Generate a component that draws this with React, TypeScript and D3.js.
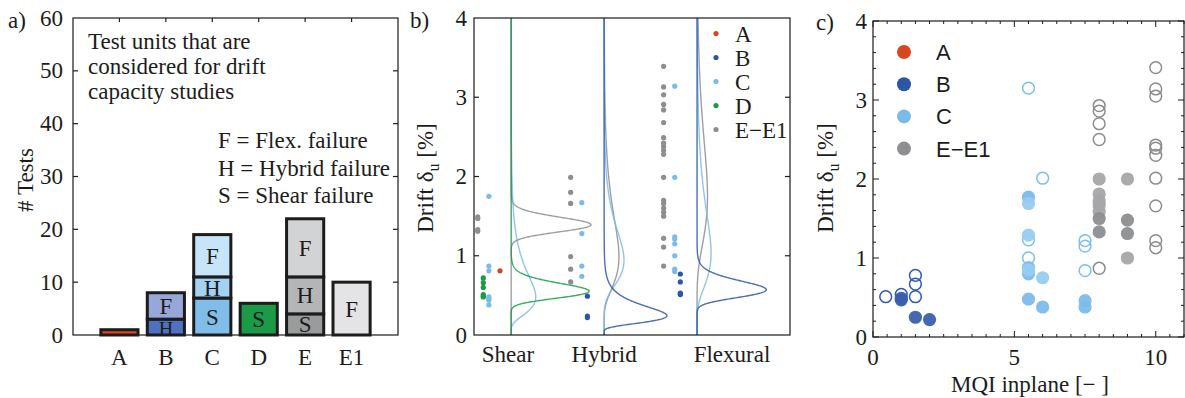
import React from 'react';
import * as d3 from 'd3';

// ---------- Panel a data ----------
const categories = ['A', 'B', 'C', 'D', 'E', 'E1'];
const shearCounts = [1, 0, 7, 6, 4, 0];
const hybridCounts = [0, 3, 4, 0, 7, 0];
const flexCounts = [0, 5, 8, 0, 11, 10];
const countTicks = [0, 10, 20, 30, 40, 50, 60];
const infoLines = ['Test units that are', 'considered for drift', 'capacity studies'];
const keyLines = ['F = Flex. failure', 'H = Hybrid failure', 'S = Shear failure'];

// ---------- Panel b data (drift capacity, %) ----------
const groupNames = ['Shear', 'Hybrid', 'Flexural'];
const shearA = [0.81];
const shearC = [1.75, 0.87, 0.81, 0.48, 0.46, 0.44, 0.38];
const shearD = [0.72, 0.66, 0.6, 0.51, 0.49, 0.48];
const shearE = [1.49, 1.47, 1.33, 1.31];
const hybridB = [0.49, 0.24, 0.22];
const hybridC = [1.67, 1.28, 0.87, 0.74];
const hybridE = [1.99, 1.8, 1.66, 0.99, 0.83, 0.67];
const flexB = [0.77, 0.67, 0.53, 0.52, 0.51];
const flexC = [3.14, 1.99, 1.24, 1.21, 1.15, 1.0, 0.83, 0.8];
const flexE = [3.39, 3.13, 3.03, 2.91, 2.84, 2.68, 2.49, 2.42, 2.38, 2.33, 2.28, 1.99, 1.7, 1.66, 1.6, 1.55, 1.5, 1.22, 1.11, 0.87];
const driftTicks = [0, 1, 2, 3, 4];
const legendBLabels = ['A', 'B', 'C', 'D', 'E\u2212E1'];

// ---------- Panel c data: [MQI inplane, drift %] ----------
const cBFilled = [[1.0, 0.49], [1.0, 0.47], [1.5, 0.25], [2.0, 0.22]];
const cBOpen = [[0.45, 0.51], [1.0, 0.54], [1.5, 0.78], [1.5, 0.67], [1.5, 0.51]];
const cCShear = [[5.5, 1.77], [5.5, 0.88], [5.5, 0.8], [5.5, 0.48], [6.0, 0.38], [7.5, 0.46], [7.5, 0.38]];
const cCHybrid = [[5.5, 1.69], [5.5, 1.29], [5.5, 0.85], [6.0, 0.75]];
const cCOpen = [[5.5, 3.15], [6.0, 2.01], [5.5, 1.23], [5.5, 1.0], [7.5, 1.22], [7.5, 1.15], [7.5, 0.84]];
const cEShear = [[8, 1.5], [8, 1.33], [9, 1.48], [9, 1.31]];
const cEHybrid = [[8, 2.0], [8, 1.81], [8, 1.72], [8, 1.67], [8, 1.59], [9, 2.0], [9, 1.0]];
const cEOpen = [[8, 2.93], [8, 2.86], [8, 2.7], [8, 2.5], [8, 0.87], [10, 3.41], [10, 3.14], [10, 3.05], [10, 2.43], [10, 2.39], [10, 2.3], [10, 2.01], [10, 1.66], [10, 1.22], [10, 1.13]];
const mqiTicks = [0, 5, 10];
const legendCLabels = ['A', 'B', 'C', 'E\u2212E1'];

// ---------- styles ----------
const INK = '#1c1c1c';
const SERIF = '"Liberation Serif", "Times New Roman", serif';
const SANS = '"Liberation Sans", Arial, sans-serif';
const FS = 23;
const RED = '#d8461f';
const DBLUE = '#2b56a8';
const LBLUE = '#7cbbe8';
const GREEN = '#1b9a48';
const GRAY = '#8e8e90';

const segColors = {
  S: ['#d9461e', '#4f6fbf', '#80bee9', '#1b9a48', '#9a9b9d', '#e4e4e6'],
  H: ['#d9461e', '#5070c0', '#a3d3f1', '#1b9a48', '#b4b5b7', '#e4e4e6'],
  F: ['#d9461e', '#98a7d9', '#c6e5f8', '#1b9a48', '#d2d3d5', '#e4e4e6'],
};

function lognPdf(vals: number[]) {
  const l = vals.map(Math.log);
  const mu = d3.mean(l) as number;
  const s = d3.deviation(l) as number;
  return (y: number) =>
    y <= 0 ? 0 : Math.exp(-((Math.log(y) - mu) ** 2) / (2 * s * s)) / (y * s * Math.sqrt(2 * Math.PI));
}

function PanelA() {
  const xA = d3.scaleLinear().domain([0, 7]).range([73, 398]);
  const yA = d3.scaleLinear().domain([0, 60]).range([335, 18]);
  const bw = xA(0.8) - xA(0);
  return (
    <g>
      <text x={8} y={28} fontFamily={SERIF} fontSize={FS} fill={INK}>a)</text>
      <rect x={xA(0)} y={yA(60)} width={xA(7) - xA(0)} height={yA(0) - yA(60)} fill="none" stroke={INK} strokeWidth={1.2} />
      {countTicks.map((t) => (
        <g key={t}>
          <text x={63} y={yA(t)} dy="0.33em" textAnchor="end" fontFamily={SERIF} fontSize={FS} fill={INK}>{t}</text>
          {t > 0 && t < 60 && <line x1={xA(0)} x2={xA(0) + 5} y1={yA(t)} y2={yA(t)} stroke={INK} strokeWidth={1.2} />}
          {t > 0 && t < 60 && <line x1={xA(7)} x2={xA(7) - 5} y1={yA(t)} y2={yA(t)} stroke={INK} strokeWidth={1.2} />}
        </g>
      ))}
      {categories.map((c, i) => (
        <g key={c}>
          <line x1={xA(i + 1)} x2={xA(i + 1)} y1={yA(60)} y2={yA(60) + 4} stroke={INK} strokeWidth={1.2} />
          <text x={xA(i + 1)} y={365} textAnchor="middle" fontFamily={SERIF} fontSize={FS} fill={INK}>{c}</text>
        </g>
      ))}
      <text transform={`translate(33,${180}) rotate(-90)`} textAnchor="middle" fontFamily={SERIF} fontSize={FS} fill={INK}># Tests</text>
      {infoLines.map((l, i) => (
        <text key={l} x={88} y={49 + i * 25} fontFamily={SERIF} fontSize={FS} fill={INK}>{l}</text>
      ))}
      {keyLines.map((l, i) => (
        <text key={l} x={218} y={148 + i * 27.5} fontFamily={SERIF} fontSize={FS} fill={INK}>{l}</text>
      ))}
      {categories.map((c, i) => {
        const segs = [
          { k: 'S', v: shearCounts[i] },
          { k: 'H', v: hybridCounts[i] },
          { k: 'F', v: flexCounts[i] },
        ];
        let base = 0;
        return (
          <g key={c}>
            {segs.map((s) => {
              if (s.v <= 0) return null;
              const y0 = base;
              base += s.v;
              const small = s.v < 4;
              return (
                <g key={s.k}>
                  <rect x={xA(i + 1) - bw / 2} y={yA(y0 + s.v)} width={bw} height={yA(y0) - yA(y0 + s.v)}
                    fill={(segColors as any)[s.k][i]} stroke={INK} strokeWidth={3} />
                  {s.v >= 2 && (
                    <text x={xA(i + 1)} y={yA(y0 + s.v / 2) + (small ? 2 : 0)} dy="0.35em" textAnchor="middle" fontFamily={SERIF} fontSize={small ? 20 : FS} fill={INK}>{s.k}</text>
                  )}
                </g>
              );
            })}
          </g>
        );
      })}
    </g>
  );
}

function PanelB() {
  const xB = d3.scaleLinear().domain([0.6, 4.0]).range([474, 790]);
  const yB = d3.scaleLinear().domain([0, 4]).range([335, 18]);
  const densScale = 0.2; // x-units per unit density
  const offsets = { A: -0.12, B: -0.18, C: -0.24, D: -0.3, E: -0.36 };
  const colors = { A: RED, B: DBLUE, C: LBLUE, D: GREEN, E: GRAY };
  const groups = [
    { base: 1, sets: [['C', shearC], ['E', shearE], ['D', shearD], ['A', shearA]] },
    { base: 2, sets: [['E', hybridE], ['C', hybridC], ['B', hybridB]] },
    { base: 3, sets: [['E', flexE], ['C', flexC], ['B', flexB]] },
  ];
  const labelPos = [0.966, 2.0, 3.376];
  const ys = d3.range(0, 4.0001, 0.004);
  const line = d3.line<[number, number]>().x((d) => d[0]).y((d) => d[1]);
  return (
    <g>
      <text x={410} y={28} fontFamily={SERIF} fontSize={FS} fill={INK}>b)</text>
      {groups.map((g, gi) => (
        <g key={gi}>
          {g.sets.filter((s) => (s[1] as number[]).length > 1).map(([k, vals]) => {
            const pdf = lognPdf(vals as number[]);
            const pts: [number, number][] = ys.map((y) => [xB(g.base + pdf(y) * densScale), yB(y)]);
            return <path key={k as string} d={line(pts) as string} fill="none" stroke={(colors as any)[k as string]} strokeWidth={1.4} strokeOpacity={0.85} />;
          })}
          {g.sets.map(([k, vals]) => (
            <g key={'d' + k}>
              {(vals as number[]).map((v, j) => (
                <circle key={j} cx={xB(g.base + (offsets as any)[k as string])} cy={yB(v)} r={2.6} fill={(colors as any)[k as string]} />
              ))}
            </g>
          ))}
          <text x={xB(labelPos[gi])} y={362} textAnchor="middle" fontFamily={SERIF} fontSize={FS} fill={INK}>{groupNames[gi]}</text>
        </g>
      ))}
      <rect x={xB(0.6)} y={yB(4)} width={xB(4) - xB(0.6)} height={yB(0) - yB(4)} fill="none" stroke={INK} strokeWidth={1.2} />
      {driftTicks.map((t) => (
        <g key={t}>
          <text x={467} y={yB(t)} dy="0.33em" textAnchor="end" fontFamily={SERIF} fontSize={FS} fill={INK}>{t}</text>
          {t > 0 && t < 4 && <line x1={xB(0.6)} x2={xB(0.6) + 5} y1={yB(t)} y2={yB(t)} stroke={INK} strokeWidth={1.2} />}
          {t > 0 && t < 4 && <line x1={xB(4)} x2={xB(4) - 5} y1={yB(t)} y2={yB(t)} stroke={INK} strokeWidth={1.2} />}
        </g>
      ))}
      <text transform={`translate(433,178) rotate(-90)`} textAnchor="middle" fontFamily={SERIF} fontSize={FS} fill={INK}>
        Drift δ<tspan fontSize={16} dy={6}>u</tspan><tspan dy={-6}> [%]</tspan>
      </text>
      {legendBLabels.map((l, i) => (
        <g key={l}>
          <circle cx={716} cy={33.5 + i * 24} r={2.6} fill={[RED, DBLUE, LBLUE, GREEN, GRAY][i]} />
          <text x={735} y={33.5 + i * 24} dy="0.35em" fontFamily={SERIF} fontSize={FS} fill={INK}>{l}</text>
        </g>
      ))}
    </g>
  );
}

function PanelC() {
  const xC = d3.scaleLinear().domain([0, 11]).range([873, 1184]);
  const yC = d3.scaleLinear().domain([0, 4]).range([337, 21]);
  const R = 6.6;
  const filled = (pts: number[][], color: string, key: string) =>
    pts.map((p, i) => <circle key={key + i} cx={xC(p[0])} cy={yC(p[1])} r={R} fill={color} fillOpacity={0.95} />);
  const open = (pts: number[][], color: string, key: string) =>
    pts.map((p, i) => <circle key={key + i} cx={xC(p[0])} cy={yC(p[1])} r={R - 0.7} fill="none" stroke={color} strokeWidth={1.5} />);
  const xMinor = d3.range(0, 11.001, 0.5);
  const yMinor = d3.range(0, 4.001, 0.2);
  return (
    <g>
      <text x={816} y={30} fontFamily={SERIF} fontSize={FS} fill={INK}>c)</text>
      {open(cBOpen, '#2d5bb0', 'bo')}
      {filled(cBFilled, '#3a5fae', 'bf')}
      {open(cCOpen, '#7dbfec', 'co')}
      {filled(cCShear, '#7cbce9', 'cs')}
      {filled(cCHybrid, '#97ccef', 'ch')}
      {open(cEOpen, '#8c8c8e', 'eo')}
      {filled(cEHybrid, '#a6a7a9', 'eh')}
      {filled(cEShear, '#8d8e90', 'es')}
      <rect x={xC(0)} y={yC(4)} width={xC(11) - xC(0)} height={yC(0) - yC(4)} fill="none" stroke={INK} strokeWidth={1.2} />
      {xMinor.map((t) => {
        const major = Math.abs(t - Math.round(t / 5) * 5) < 1e-6;
        const L = major ? 6 : 3;
        return (
          <g key={'x' + t}>
            <line x1={xC(t)} x2={xC(t)} y1={yC(0)} y2={yC(0) - L} stroke={INK} strokeWidth={1} />
            <line x1={xC(t)} x2={xC(t)} y1={yC(4)} y2={yC(4) + L} stroke={INK} strokeWidth={1} />
          </g>
        );
      })}
      {yMinor.map((t) => {
        const major = Math.abs(t - Math.round(t)) < 1e-6;
        const L = major ? 6 : 3;
        return (
          <g key={'y' + t}>
            <line x1={xC(0)} x2={xC(0) + L} y1={yC(t)} y2={yC(t)} stroke={INK} strokeWidth={1} />
            <line x1={xC(11)} x2={xC(11) - L} y1={yC(t)} y2={yC(t)} stroke={INK} strokeWidth={1} />
          </g>
        );
      })}
      {driftTicks.map((t) => (
        <text key={t} x={867} y={yC(t)} dy="0.33em" textAnchor="end" fontFamily={SERIF} fontSize={FS} fill={INK}>{t}</text>
      ))}
      {mqiTicks.map((t) => (
        <text key={t} x={xC(t)} y={365} textAnchor="middle" fontFamily={SERIF} fontSize={FS} fill={INK}>{t}</text>
      ))}
      <text x={1030} y={392} textAnchor="middle" fontFamily={SERIF} fontSize={FS} fill={INK}>MQI inplane [{'\u2212'} ]</text>
      <text transform={`translate(833,178) rotate(-90)`} textAnchor="middle" fontFamily={SERIF} fontSize={FS} fill={INK}>
        Drift δ<tspan fontSize={16} dy={6}>u</tspan><tspan dy={-6}> [%]</tspan>
      </text>
      {legendCLabels.map((l, i) => (
        <g key={l}>
          <circle cx={904} cy={52 + i * 32.2} r={7} fill={[RED, '#2c56a6', LBLUE, GRAY][i]} />
          <text x={936} y={52 + i * 32.2} dy="0.36em" fontFamily={SANS} fontSize={22} fill={INK}>{l}</text>
        </g>
      ))}
    </g>
  );
}

export default function App() {
  return (
    <svg width={1185} height={398} style={{ position: 'absolute', left: 0, top: 0, background: '#fff' }}>
      <rect width={1185} height={398} fill="#fff" />
      <PanelA />
      <PanelB />
      <PanelC />
    </svg>
  );
}
